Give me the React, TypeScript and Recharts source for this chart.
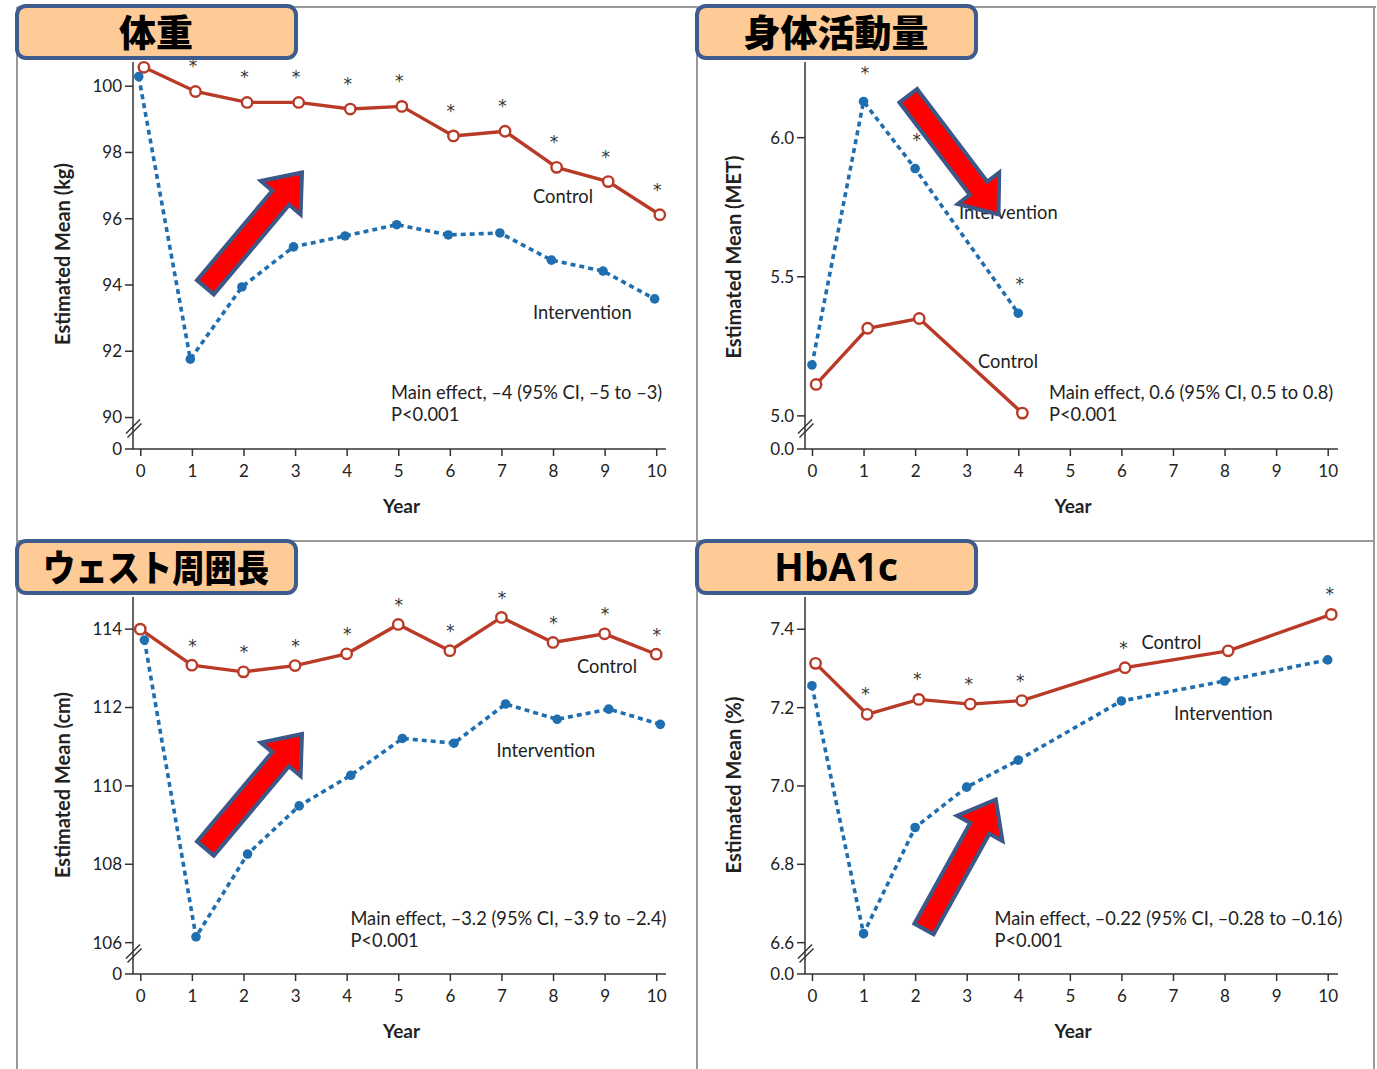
import React from 'react';
import { ComposedChart, Line, Scatter, XAxis, YAxis } from 'recharts';

const FONT = 'Lato, "DejaVu Sans", sans-serif';
const CJK = '"Noto Sans CJK JP", "Noto Sans", sans-serif';
const RED = '#B83A27';
const BLUE = '#1F6EB0';
const AXIS = '#333333';
const TEXT = '#222222';
const FRAME = '#9a9a9a';

// ---------- shared ----------
const xTicks = [0, 1, 2, 3, 4, 5, 6, 7, 8, 9, 10];

// ---------- 体重 (weight, kg) ----------
const weightYears = [0, 1, 2, 3, 4, 5, 6, 7, 8, 9, 10];
const weightControl = [100.57, 99.84, 99.51, 99.51, 99.31, 99.39, 98.5, 98.64, 97.55, 97.12, 96.12];
const weightIntervention = [100.29, 91.76, 93.94, 95.15, 95.48, 95.82, 95.51, 95.57, 94.75, 94.42, 93.58];
const weightStarYears = [1, 2, 3, 4, 5, 6, 7, 8, 9, 10];
const weightYDomain = [89.05, 100.73];
const weightYTicks = [89.05, 90, 92, 94, 96, 98, 100];
const weightYTickLabels = ['0', '90', '92', '94', '96', '98', '100'];

// ---------- 身体活動量 (MET) ----------
const metYears = [0, 1, 2, 4];
const metControl = [5.113, 5.315, 5.35, 5.01];
const metIntervention = [5.183, 6.13, 5.889, 5.369];
const metStarYears = [1, 2, 4];
const metYDomain = [4.881, 6.272];
const metYTicks = [4.881, 5.0, 5.5, 6.0];
const metYTickLabels = ['0.0', '5.0', '5.5', '6.0'];

// ---------- ウェスト周囲長 (waist, cm) ----------
const waistYears = [0, 1, 2, 3, 4, 5, 6, 7, 8, 9, 10];
const waistControl = [114.0, 113.08, 112.91, 113.07, 113.37, 114.12, 113.45, 114.3, 113.66, 113.88, 113.36];
const waistIntervention = [113.72, 106.15, 108.26, 109.49, 110.27, 111.21, 111.09, 112.09, 111.7, 111.96, 111.57];
const waistStarYears = [1, 2, 3, 4, 5, 6, 7, 8, 9, 10];
const waistYDomain = [105.2, 114.82];
const waistYTicks = [105.2, 106, 108, 110, 112, 114];
const waistYTickLabels = ['0', '106', '108', '110', '112', '114'];

// ---------- HbA1c (%) ----------
const hbYears = [0, 1, 2, 3, 4, 6, 8, 10];
const hbControl = [7.313, 7.183, 7.221, 7.209, 7.218, 7.302, 7.345, 7.438];
const hbIntervention = [7.256, 6.623, 6.894, 6.997, 7.066, 7.217, 7.268, 7.322];
const hbStarYears = [1, 2, 3, 4, 6, 10];
const hbYDomain = [6.52, 7.4824];
const hbYTicks = [6.52, 6.6, 6.8, 7.0, 7.2, 7.4];
const hbYTickLabels = ['0.0', '6.6', '6.8', '7.0', '7.2', '7.4'];

const Y_TICK_SIZE = 8;
const Y_TICK_MARGIN = 3;
const TOP_PAD = 28;

type Pt = { x: number; y: number };

function series(years: number[], vals: number[], dodge: number): Pt[] {
  return years.map((yr, i) => ({ x: yr + dodge, y: vals[i] }));
}

function starPoints(starYears: number[], years: number[], vals: number[], dodge: number): Pt[] {
  return starYears.map((yr) => ({ x: yr + dodge, y: vals[years.indexOf(yr)] }));
}

function makeYTick(ticks: number[], labels: string[]) {
  return (props: any) => {
    const { x, y, payload } = props;
    const i = ticks.indexOf(payload.value);
    const label = i >= 0 ? labels[i] : String(payload.value);
    const ax = x + Y_TICK_SIZE + Y_TICK_MARGIN;
    return (
      <g>
        <text x={x} y={y} dy="0.35em" textAnchor="end" fontSize={17} fill={TEXT} fontFamily={FONT}>
          {label}
        </text>
        {i === 0 && (
          <g stroke={AXIS} strokeWidth={1.4}>
            <line x1={ax - 7} y1={y - 15.5} x2={ax + 7} y2={y - 29.5} />
            <line x1={ax - 5.5} y1={y - 11.5} x2={ax + 8.5} y2={y - 25.5} />
          </g>
        )}
      </g>
    );
  };
}

const ControlDot = (props: any) => {
  const { cx, cy, index } = props;
  if (cx == null || cy == null) return <g key={`c${index}`} />;
  return <circle key={`c${index}`} cx={cx} cy={cy} r={5.2} fill="#ffffff" stroke={RED} strokeWidth={2.4} />;
};

const InterventionDot = (props: any) => {
  const { cx, cy, index } = props;
  if (cx == null || cy == null) return <g key={`i${index}`} />;
  return <circle key={`i${index}`} cx={cx} cy={cy} r={4.8} fill={BLUE} stroke="none" />;
};

function makeStar(dy: number) {
  return (p: any) => (
    <text
      x={p.cx}
      y={p.cy - dy + 10}
      textAnchor="middle"
      fontSize={17}
      fill="#333333"
      stroke="none"
      fontFamily='"DejaVu Sans", sans-serif'
    >
      *
    </text>
  );
}

type PanelProps = {
  L: number; R: number; T: number; B: number;
  xDomain: number[];
  yDomain: number[];
  yTicks: number[];
  yTickLabels: string[];
  control: Pt[];
  intervention: Pt[];
  stars: Pt[];
  starDy: number;
};

function Panel(p: PanelProps) {
  const left = p.L - 70;
  const top = p.T - TOP_PAD;
  const width = p.R - p.L + 90;
  const height = p.B - p.T + 50 + TOP_PAD;
  return (
    <div style={{ position: 'absolute', left, top, width, height }}>
      <ComposedChart width={width} height={height} margin={{ top: TOP_PAD, right: 20, bottom: 20, left: 10 }}>
        <XAxis
          type="number"
          dataKey="x"
          domain={p.xDomain as any}
          ticks={xTicks}
          height={30}
          tickSize={7}
          tickMargin={9}
          interval={0}
          axisLine={{ stroke: AXIS, strokeWidth: 1.5 }}
          tickLine={{ stroke: AXIS, strokeWidth: 1.5 }}
          tick={{ fontSize: 17, fill: TEXT, fontFamily: FONT }}
        />
        <YAxis
          type="number"
          dataKey="y"
          domain={p.yDomain as any}
          ticks={p.yTicks}
          width={60}
          interval={0}
          tickSize={Y_TICK_SIZE}
          tickMargin={Y_TICK_MARGIN}
          axisLine={{ stroke: AXIS, strokeWidth: 1.5 }}
          tickLine={{ stroke: AXIS, strokeWidth: 1.5 }}
          tick={makeYTick(p.yTicks, p.yTickLabels)}
        />
        <Line
          data={p.intervention}
          dataKey="y"
          type="linear"
          stroke={BLUE}
          strokeWidth={3.6}
          strokeDasharray="5 4"
          dot={InterventionDot}
          activeDot={false}
          isAnimationActive={false}
        />
        <Line
          data={p.control}
          dataKey="y"
          type="linear"
          stroke={RED}
          strokeWidth={3.4}
          dot={ControlDot}
          activeDot={false}
          isAnimationActive={false}
        />
        <Scatter data={p.stars} dataKey="y" shape={makeStar(p.starDy)} isAnimationActive={false} />
      </ComposedChart>
    </div>
  );
}

function arrowPoints(tx: number, ty: number, hx: number, hy: number): string {
  const w = 11;
  const W = 26;
  const Lh = 33;
  const dx = hx - tx;
  const dy = hy - ty;
  const len = Math.sqrt(dx * dx + dy * dy);
  const ux = dx / len;
  const uy = dy / len;
  const nx = -uy;
  const ny = ux;
  const bx = hx - ux * Lh;
  const by = hy - uy * Lh;
  const pts = [
    [tx + nx * w, ty + ny * w],
    [bx + nx * w, by + ny * w],
    [bx + nx * W, by + ny * W],
    [hx, hy],
    [bx - nx * W, by - ny * W],
    [bx - nx * w, by - ny * w],
    [tx - nx * w, ty - ny * w],
  ];
  return pts.map((q) => `${q[0].toFixed(1)},${q[1].toFixed(1)}`).join(' ');
}

const Arrow = ({ t, h }: { t: number[]; h: number[] }) => (
  <polygon points={arrowPoints(t[0], t[1], h[0], h[1])} fill="#FF0000" stroke="#3B5888" strokeWidth={4} strokeLinejoin="miter" />
);

const TitleBox = ({ x, y, label, latin, fit }: { x: number; y: number; label: string; latin?: boolean; fit?: number }) => (
  <g>
    <rect x={x} y={y} width={279} height={52} rx={9} ry={9} fill="#FECB97" stroke="#3D5B8C" strokeWidth={4} />
    {latin ? (
      <text x={x + 139} y={y + 40} textAnchor="middle" fontSize={39} fontWeight={700} fill="#000" fontFamily='"Noto Sans", sans-serif'>
        {label}
      </text>
    ) : (
      <text
        x={x + 139}
        y={y + 25}
        textAnchor="middle"
        dominantBaseline="central"
        fontSize={37}
        fontWeight={900}
        fill="#000"
        fontFamily={CJK}
        {...(fit ? { textLength: fit, lengthAdjust: 'spacingAndGlyphs' } : {})}
      >
        {label}
      </text>
    )}
  </g>
);

const Note = ({ x, y, children }: { x: number; y: number; children: React.ReactNode }) => (
  <text x={x} y={y} dy="0.35em" fontSize={18.3} fill={TEXT} fontFamily={FONT}>
    {children}
  </text>
);

const YTitle = ({ x, y, label }: { x: number; y: number; label: string }) => (
  <text
    x={x}
    y={y}
    transform={`rotate(-90 ${x} ${y})`}
    textAnchor="middle"
    dy="0.35em"
    fontSize={20}
    fontWeight={700}
    fill={TEXT}
    fontFamily={FONT}
  >
    {label}
  </text>
);

const XTitle = ({ x, y }: { x: number; y: number }) => (
  <text x={x} y={y} textAnchor="middle" dy="0.35em" fontSize={19} fontWeight={700} fill={TEXT} fontFamily={FONT}>
    Year
  </text>
);

const leftXDomain = [-0.151, 10.18];
const rightXDomain = [-0.145, 10.19];

export default function App() {
  return (
    <div
      style={{
        position: 'absolute',
        left: 0,
        top: 0,
        width: 1377,
        height: 1069,
        background: '#ffffff',
        overflow: 'hidden',
        fontFamily: FONT,
      }}
    >
      {/* frame */}
      <svg width={1377} height={1069} style={{ position: 'absolute', left: 0, top: 0 }}>
        <g stroke={FRAME} strokeWidth={2}>
          <line x1={17} y1={7} x2={1376} y2={7} />
          <line x1={17} y1={7} x2={17} y2={1069} />
          <line x1={697} y1={7} x2={697} y2={1069} />
          <line x1={1374} y1={7} x2={1374} y2={1069} />
          <line x1={17} y1={541} x2={1374} y2={541} />
        </g>
      </svg>

      <Panel
        L={133} R={666} T={62} B={449}
        xDomain={leftXDomain}
        yDomain={weightYDomain}
        yTicks={weightYTicks}
        yTickLabels={weightYTickLabels}
        control={series(weightYears, weightControl, 0.06)}
        intervention={series(weightYears, weightIntervention, -0.04)}
        stars={starPoints(weightStarYears, weightYears, weightControl, 0.01)}
        starDy={29}
      />
      <Panel
        L={805} R={1338} T={62} B={449}
        xDomain={rightXDomain}
        yDomain={metYDomain}
        yTicks={metYTicks}
        yTickLabels={metYTickLabels}
        control={series(metYears, metControl, 0.07)}
        intervention={series(metYears, metIntervention, -0.01)}
        stars={starPoints(metStarYears, metYears, metIntervention, 0.02)}
        starDy={33}
      />
      <Panel
        L={133} R={666} T={597} B={974}
        xDomain={leftXDomain}
        yDomain={waistYDomain}
        yTicks={waistYTicks}
        yTickLabels={waistYTickLabels}
        control={series(waistYears, waistControl, -0.01)}
        intervention={series(waistYears, waistIntervention, 0.07)}
        stars={starPoints(waistStarYears, waistYears, waistControl, 0)}
        starDy={23.5}
      />
      <Panel
        L={805} R={1338} T={597} B={974}
        xDomain={rightXDomain}
        yDomain={hbYDomain}
        yTicks={hbYTicks}
        yTickLabels={hbYTickLabels}
        control={series(hbYears, hbControl, 0.06)}
        intervention={series(hbYears, hbIntervention, -0.01)}
        stars={starPoints(hbStarYears, hbYears, hbControl, 0.03)}
        starDy={24}
      />

      {/* annotations */}
      <svg width={1377} height={1069} style={{ position: 'absolute', left: 0, top: 0, pointerEvents: 'none' }}>
        <YTitle x={63} y={254} label="Estimated Mean (kg)" />
        <YTitle x={734} y={257} label="Estimated Mean (MET)" />
        <YTitle x={63} y={785} label="Estimated Mean (cm)" />
        <YTitle x={734} y={785} label="Estimated Mean (%)" />
        <XTitle x={401.5} y={506} />
        <XTitle x={1073} y={506} />
        <XTitle x={401.5} y={1031} />
        <XTitle x={1073} y={1031} />

        <Note x={533} y={197}>Control</Note>
        <Note x={533} y={313}>Intervention</Note>
        <Note x={391} y={392.6}>Main effect, –4 (95% CI, –5 to –3)</Note>
        <Note x={391} y={415}>P&lt;0.001</Note>

        <Note x={959} y={212.5}>Intervention</Note>
        <Note x={978} y={361.6}>Control</Note>
        <Note x={1049} y={392.6}>Main effect, 0.6 (95% CI, 0.5 to 0.8)</Note>
        <Note x={1049} y={415}>P&lt;0.001</Note>

        <Note x={577} y={667}>Control</Note>
        <Note x={496.5} y={750.3}>Intervention</Note>
        <Note x={350.4} y={918.2}>Main effect, –3.2 (95% CI, –3.9 to –2.4)</Note>
        <Note x={350.4} y={940.3}>P&lt;0.001</Note>

        <Note x={1141.4} y={643}>Control</Note>
        <Note x={1174} y={713.8}>Intervention</Note>
        <Note x={994.5} y={918.2}>Main effect, –0.22 (95% CI, –0.28 to –0.16)</Note>
        <Note x={994.5} y={940.3}>P&lt;0.001</Note>

        <Arrow t={[205.4, 287.3]} h={[302, 172.5]} />
        <Arrow t={[908.3, 95.8]} h={[998.5, 214.5]} />
        <Arrow t={[205.4, 848.5]} h={[302, 734]} />
        <Arrow t={[924, 929]} h={[995.8, 799.5]} />

        <TitleBox x={17} y={6} label="体重" />
        <TitleBox x={697} y={6} label="身体活動量" />
        <TitleBox x={17} y={541} label="ウェスト周囲長" fit={226} />
        <TitleBox x={697} y={541} label="HbA1c" latin />
      </svg>
    </div>
  );
}
